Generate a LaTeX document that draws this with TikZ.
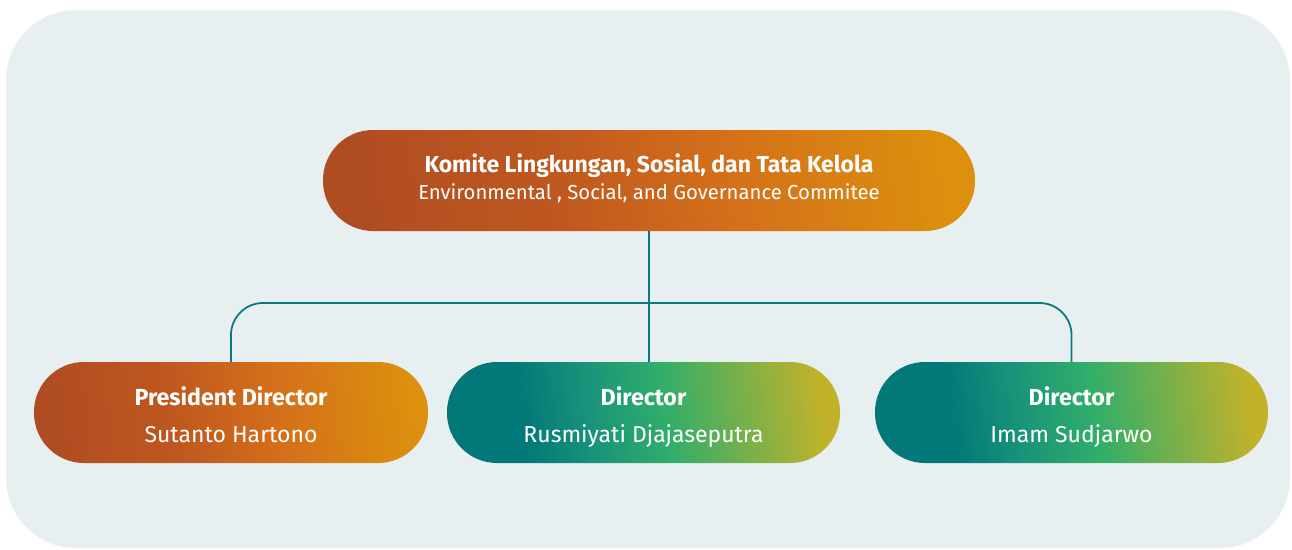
\documentclass[tikz,border=0pt]{standalone}
\usepackage{fontspec}
\setmainfont{Fira Sans}
\definecolor{bgc}{HTML}{E7EFF1}
\definecolor{linec}{HTML}{0A7A80}
\definecolor{o1}{HTML}{B04C22}
\definecolor{o2}{HTML}{BF581F}
\definecolor{o3}{HTML}{D4701A}
\definecolor{o4}{HTML}{DC900E}
\definecolor{g1}{HTML}{037878}
\definecolor{g2}{HTML}{18927A}
\definecolor{g3}{HTML}{30AE6A}
\definecolor{g4}{HTML}{C2B22A}
\pgfdeclarehorizontalshading{orangegrad}{100bp}{color(0bp)=(o1); color(25bp)=(o1); color(42bp)=(o2); color(57bp)=(o3); color(75bp)=(o4); color(100bp)=(o4)}
\pgfdeclarehorizontalshading{greengrad}{100bp}{color(0bp)=(g1); color(33bp)=(g1); color(42bp)=(g2); color(53bp)=(g3); color(75bp)=(g4); color(100bp)=(g4)}
\tikzset{
  pill/.style={rectangle, rounded corners=50pt, minimum width=#1, minimum height=101pt, inner sep=0pt},
  orangepill/.style={pill=#1, shading=orangegrad, shading angle=8},
  greenpill/.style={pill=#1, shading=greengrad, shading angle=8},
  headtxt/.style={anchor=base, text=white, font=\bfseries\fontsize{23}{27}\selectfont},
  subtxt/.style={anchor=base, text=white, font=\fontsize{20.3}{24}\selectfont},
  roletxt/.style={anchor=base, text=white, font=\bfseries\fontsize{23.2}{27}\selectfont},
  nametxt/.style={anchor=base, text=white, font=\fontsize{23}{27}\selectfont},
  conn/.style={draw=linec, line width=1.8pt},
}
\begin{document}
\begin{tikzpicture}[x=1pt, y=-1pt]
\useasboundingbox (0,0) rectangle (1292,549);
\fill[white] (0,0) rectangle (1292,549);
\fill[bgc, rounded corners=70pt] (6,10) rectangle (1290,548);

\node[orangepill=652pt] (top) at (649,180.5) {};
\node[orangepill=394pt] (n1) at (231,412.5) {};
\node[greenpill=393pt] (n2) at (643.5,412.5) {};
\node[greenpill=393pt] (n3) at (1071.5,412.5) {};

\coordinate (bus) at (649,303);
\draw[conn] (top.south) -- (top.south |- n2.north);
\draw[conn, rounded corners=32pt] (n1.north) |- (bus) -| (n3.north);

\node[headtxt] (t1) at ([yshift=8.5pt]top.center) {Komite Lingkungan, Sosial, dan Tata Kelola};
\node[subtxt] (t2) at ([yshift=-18.5pt]top.center) {Environmental , Social, and Governance Commitee};

\node[roletxt] (r1) at ([yshift=7.5pt]n1.center) {President Director};
\node[nametxt] (m1) at ([yshift=-30pt]n1.center) {Sutanto Hartono};
\node[roletxt] (r2) at ([yshift=7.5pt]n2.center) {Director};
\node[nametxt] (m2) at ([yshift=-30pt]n2.center) {Rusmiyati Djajaseputra};
\node[roletxt] (r3) at ([yshift=7.5pt]n3.center) {Director};
\node[nametxt] (m3) at ([yshift=-30pt]n3.center) {Imam Sudjarwo};
\end{tikzpicture}
\end{document}
